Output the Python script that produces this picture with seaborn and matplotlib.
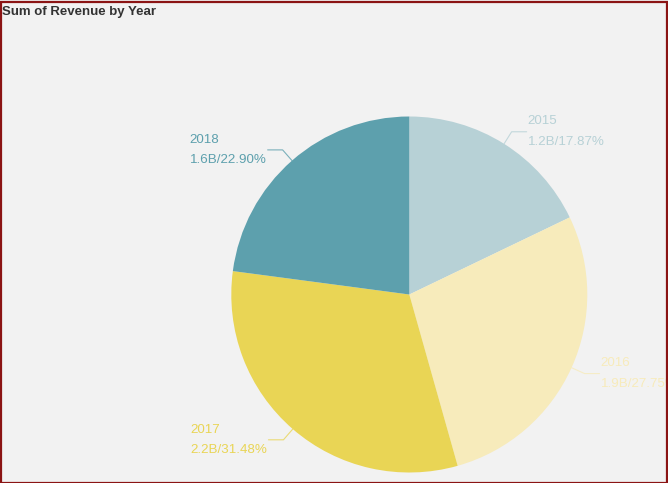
import numpy as np
import matplotlib
matplotlib.use("Agg")
import matplotlib.pyplot as plt
import seaborn as sns

# ---- data ----
years = ["2015", "2016", "2017", "2018"]
revenue_b = [1.2, 1.9, 2.2, 1.6]
percent = [17.87, 27.75, 31.48, 22.90]
colors = ["#b7d1d6", "#f7ebbb", "#e9d555", "#5da0ad"]
title = "Sum of Revenue by Year"

sns.set_theme(style="white")
plt.rcParams["font.family"] = ["Liberation Sans", "DejaVu Sans"]
palette = sns.color_palette(colors)

W, H = 668, 483
fig = plt.figure(figsize=(W / 100, H / 100), dpi=100)
fig.patch.set_facecolor("#f2f2f2")

# border
border = plt.Rectangle((0.5 / W, 0.5 / H), (W - 2) / W, (H - 2.5) / H,
                       transform=fig.transFigure, fill=False,
                       edgecolor="#8b1414", linewidth=1.6, zorder=10)
fig.add_artist(border)

fig.text(2 / W, 1 - 12 / H, title, fontsize=9.5, fontweight="bold",
         color="#333333", ha="left", va="center")

cx, cy, R = 409.3, 294.5, 178
ax = fig.add_axes([(cx - R) / W, (H - cy - R) / H, 2 * R / W, 2 * R / H])
ax.set_facecolor("none")
wedges, _ = ax.pie(percent, colors=palette, startangle=90, counterclock=False,
                   radius=1, wedgeprops=dict(linewidth=0))
ax.set_xlim(-1, 1)
ax.set_ylim(-1, 1)
ax.set_aspect("equal")
ax.axis("off")

px = 1 / R  # one pixel in data units
for w, yr, rev, pct, col in zip(wedges, years, revenue_b, percent, palette):
    ang = np.deg2rad((w.theta1 + w.theta2) / 2)
    x0, y0 = np.cos(ang), np.sin(ang)
    x1, y1 = 1.08 * x0, 1.08 * y0
    side = 1 if x0 >= 0 else -1
    x2 = x1 + side * 15 * px
    ax.plot([x0, x1, x2], [y0, y1, y1], color=col, linewidth=0.8,
            alpha=0.8, clip_on=False)
    ax.text(x2 + side * 1 * px, y1, f"{yr}\n{rev:.1f}B/{pct:.2f}%",
            ha="left" if side > 0 else "right", va="center",
            multialignment="left", fontsize=9.6, color=col,
            linespacing=1.95, clip_on=False)

fig.savefig("out.png", dpi=100, facecolor=fig.get_facecolor())
